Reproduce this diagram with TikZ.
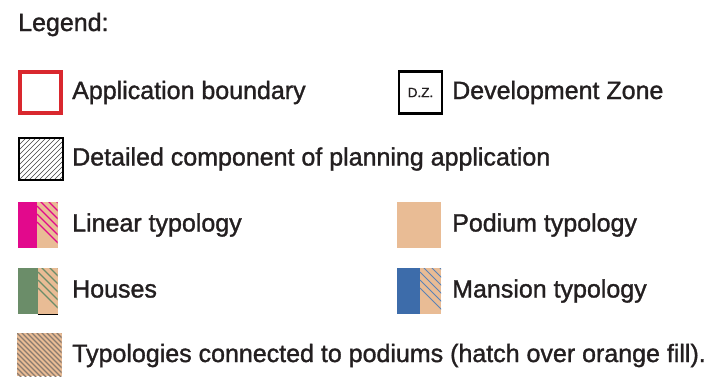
\documentclass[tikz,border=0pt]{standalone}
\usepackage{fontspec}
\setmainfont{Liberation Sans}
\newfontfamily\medfont[FakeBold=1.3]{Liberation Sans}
\definecolor{txt}{HTML}{231F20}
\definecolor{appred}{HTML}{D9282E}
\definecolor{peach}{HTML}{E9BC95}
\definecolor{magenta}{HTML}{E2098C}
\definecolor{housegreen}{HTML}{6B8D69}
\definecolor{mansblue}{HTML}{3D6CAA}
\definecolor{hatchgray}{HTML}{8A7A6E}
\begin{document}
\begin{tikzpicture}[x=1pt,y=-1pt,
  lbl/.style={anchor=base west,inner sep=0pt,text=txt,font=\medfont\fontsize{25}{28}\selectfont},
  swatch/.style={inner sep=0pt,outer sep=0pt}]
\useasboundingbox (0,0) rectangle (709,376);
% Legend title
\node[lbl] (title) at (18,31) {Legend:};

% Application boundary
\node[swatch,draw=appred,line width=3.6pt,minimum width=40.5pt,minimum height=41pt] (app) at (40.5,92.5) {};
\node[lbl] (applbl) at (72,99) {Application boundary};

% Development zone
\node[swatch,draw=black,line width=2.4pt,minimum width=42.5pt,minimum height=42pt,text=txt,font=\medfont\fontsize{13.5}{15}\selectfont] (dz) at (420.5,92.5) {D.Z.};
\node[lbl] (dzlbl) at (452,99) {Development Zone};

% Detailed component
\begin{scope}
  \clip (19,138) rectangle (63,180);
  \foreach \k in {-60,-55,...,70} \draw[line width=0.5pt,black!75] (19+\k,180) -- ++(60,-60);
\end{scope}
\node[swatch,draw=black,line width=2.4pt,minimum width=44pt,minimum height=42pt] (det) at (41,159) {};
\node[lbl] (detlbl) at (72,165.5) {Detailed component of planning application};

% Linear typology
\fill[magenta] (18,202) rectangle (37,248);
\fill[peach] (37,202) rectangle (57.5,248);
\begin{scope}
  \clip (37,202) rectangle (57.5,248);
  \foreach \k in {-60,-52,...,20} \draw[line width=1.1pt,magenta] (37,202+\k) -- ++(60,60);
\end{scope}
\node[swatch,minimum width=39.5pt,minimum height=46pt] (lin) at (37.75,225) {};
\node[lbl] (linlbl) at (72,231.5) {Linear typology};

% Podium typology
\node[swatch,fill=peach,minimum width=44pt,minimum height=46pt] (pod) at (419,225) {};
\node[lbl] (podlbl) at (452,231.5) {Podium typology};

% Houses
\fill[housegreen] (18,268) rectangle (38,314);
\fill[peach] (38,268) rectangle (57.5,314);
\begin{scope}
  \clip (38,268) rectangle (57.5,314);
  \foreach \k in {-60,-52,...,20} \draw[line width=1.1pt,housegreen] (38,268+\k) -- ++(60,60);
\end{scope}
\draw[line width=1pt,black] (37.5,314) -- (57.5,314);
\node[swatch,minimum width=39.5pt,minimum height=46pt] (hou) at (37.75,291) {};
\node[lbl] (houlbl) at (72,297.5) {Houses};

% Mansion typology
\fill[mansblue] (397,268) rectangle (420,314);
\fill[peach] (420,268) rectangle (441,314);
\begin{scope}
  \clip (420,268) rectangle (441,314);
  \foreach \k in {-60,-52,...,20} \draw[line width=1pt,mansblue!85] (420,268+\k) -- ++(60,60);
\end{scope}
\node[swatch,minimum width=44pt,minimum height=46pt] (man) at (419,291) {};
\node[lbl] (manlbl) at (452,297.5) {Mansion typology};

% Typologies connected to podiums
\fill[peach] (17,333) rectangle (61.5,376);
\begin{scope}
  \clip (17,333) rectangle (61.5,376);
  \foreach \k in {-60,-55,...,50} \draw[line width=1.2pt,hatchgray] (17,333+\k) -- ++(70,70);
\end{scope}
\node[swatch,minimum width=44.5pt,minimum height=43pt] (typ) at (39.25,354.5) {};
\node[lbl] (typlbl) at (72,362) {Typologies connected to podiums (hatch over orange fill).};
\end{tikzpicture}
\end{document}
